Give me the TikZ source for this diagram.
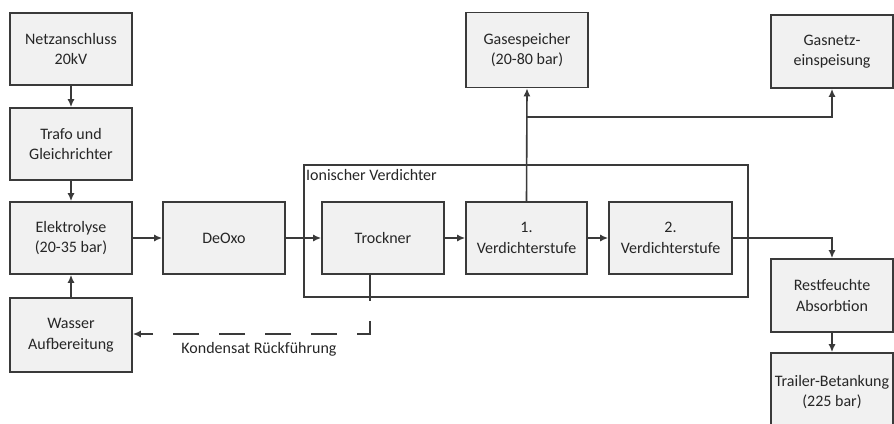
\documentclass[tikz,border=0pt]{standalone}
\usepackage{fontspec}
\setmainfont{Carlito}
\usetikzlibrary{arrows.meta}
\definecolor{boxfill}{HTML}{F1F1F1}
\definecolor{edge}{HTML}{3A3A3A}
\tikzset{
  blk/.style={draw=edge, line width=1.6pt, fill=boxfill, minimum width=122pt, minimum height=72pt, align=center, inner sep=2pt, text=black!85,
    font=\fontsize{16}{20.5}\selectfont},
  conn/.style={draw=edge, line width=1.6pt, -{Latex[length=8pt,width=7pt]}},
  dashconn/.style={draw=edge, line width=1.6pt, dash pattern=on 26pt off 20pt, -{Latex[length=8pt,width=7pt]}},
  lbl/.style={text=black!85, font=\fontsize{16}{20.5}\selectfont, inner sep=1pt}
}
\begin{document}
\begin{tikzpicture}[x=1pt,y=-1pt]
\useasboundingbox (0,0) rectangle (894,423);
% frame
\draw[draw=edge, line width=1.6pt, fill=white] (304,165) rectangle (748,297);
\node[lbl, anchor=north west] (frametitle) at (305,168) {Ionischer Verdichter};
% blocks
\node[blk] (netz) at (71,49) {Netzanschluss\\20kV};
\node[blk] (trafo) at (71,144) {Trafo und\\Gleichrichter};
\node[blk] (elek) at (71,238) {Elektrolyse\\(20-35 bar)};
\node[blk, minimum height=74pt] (wasser) at (71,335) {Wasser\\Aufbereitung};
\node[blk] (deoxo) at (224,238) {DeOxo};
\node[blk] (trock) at (383,238) {Trockner};
\node[blk, minimum width=121pt] (st1) at (526.5,238) {1.\\Verdichterstufe};
\node[blk, minimum width=123pt] (st2) at (670.5,238) {2.\\Verdichterstufe};
\node[blk, minimum height=75pt] (gasp) at (527,50) {Gasespeicher\\(20-80 bar)};
\node[blk, minimum height=73pt] (gasn) at (832,51.5) {Gasnetz-\\einspeisung};
\node[blk, minimum height=73pt] (rest) at (832,295.5) {Restfeuchte\\Absorbtion};
\node[blk, minimum height=78pt] (trail) at (832,392) {Trailer-Betankung\\(225 bar)};
% connectors
\draw[conn] (netz) -- (trafo);
\draw[conn] (trafo) -- (elek);
\draw[conn] (wasser) -- (elek);
\draw[conn] (elek) -- (deoxo);
\draw[conn] (deoxo) -- (trock);
\draw[conn] (trock) -- (st1);
\draw[conn] (st1) -- (st2);
\draw[conn] (st1.north) -- (gasp.south);
\coordinate (br) at (527,117);
\draw[conn] (br) -| (gasn.south);
\draw[conn] (st2.east) -| (rest.north);
\draw[conn] (rest) -- (trail);
\coordinate (kd) at (370,334);
\draw[dashconn] (trock.south -| kd) -- (kd) -- (wasser.east |- kd);
\node[lbl] (kondlbl) at (259,349) {Kondensat Rückführung};
\end{tikzpicture}
\end{document}
